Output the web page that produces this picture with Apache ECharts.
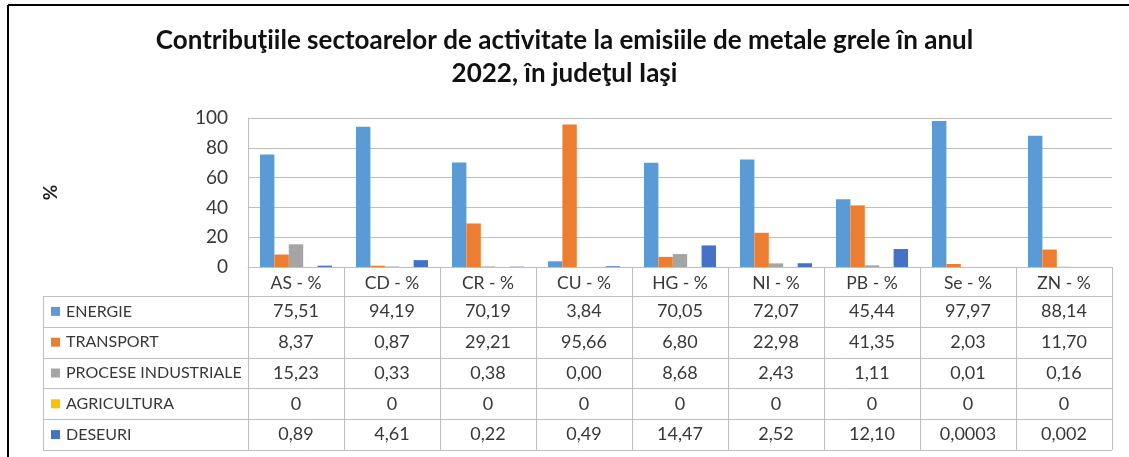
<!DOCTYPE html>
<html>
<head>
<meta charset="utf-8">
<script src="https://cdn.jsdelivr.net/npm/echarts@6/dist/echarts.min.js"></script>
<style>
  html, body { margin: 0; padding: 0; background: #fff; }
  #chart { width: 1129px; height: 457px; }
</style>
</head>
<body>
<div id="chart"></div>
<script>
// Metals (categories) and the share of each activity sector, in percent
const categories = ['AS - %', 'CD - %', 'CR - %', 'CU - %', 'HG - %', 'NI - %', 'PB - %', 'Se - %', 'ZN - %'];
const sectorNames = ['ENERGIE', 'TRANSPORT', 'PROCESE INDUSTRIALE', 'AGRICULTURA', 'DESEURI'];
const energie = ['75,51', '94,19', '70,19', '3,84', '70,05', '72,07', '45,44', '97,97', '88,14'];
const transport = ['8,37', '0,87', '29,21', '95,66', '6,80', '22,98', '41,35', '2,03', '11,70'];
const proceseIndustriale = ['15,23', '0,33', '0,38', '0,00', '8,68', '2,43', '1,11', '0,01', '0,16'];
const agricultura = ['0', '0', '0', '0', '0', '0', '0', '0', '0'];
const deseuri = ['0,89', '4,61', '0,22', '0,49', '14,47', '2,52', '12,10', '0,0003', '0,002'];
const yTicks = [0, 20, 40, 60, 80, 100];

const sectorValues = [energie, transport, proceseIndustriale, agricultura, deseuri];
const colors = ['#5B9BD5', '#ED7D31', '#A5A5A5', '#FFC000', '#4472C4'];
const toNumber = s => parseFloat(s.replace(',', '.'));

const FONT = 'Lato, "Open Sans", sans-serif';
const TEXT = '#383838';
const LINE = '#bfbfbf';

// table geometry (below the plot)
const tableLeft = 43;
const tableTop = 296;
const rowH = 30.8;
const tableBottom = tableTop + rowH * sectorNames.length;

const chart = echarts.init(document.getElementById('chart'), null, { renderer: 'canvas' });

chart.setOption({
  animation: false,
  backgroundColor: '#fff',
  title: {
    text: 'Contribuţiile sectoarelor de activitate la emisiile de metale grele în anul\n2022, în judeţul Iaşi',
    left: 'center',
    top: 19,
    textStyle: { fontFamily: FONT, fontWeight: 'bold', fontSize: 26, lineHeight: 33, color: '#111' }
  },
  grid: { left: 248, top: 118, right: 17, bottom: 190, containLabel: false },
  xAxis: {
    type: 'category',
    data: categories,
    axisLine: { show: true, lineStyle: { color: LINE, width: 1 } },
    axisTick: { show: true, length: tableBottom - 267, lineStyle: { color: LINE, width: 1 } },
    axisLabel: { fontFamily: FONT, fontSize: 17.5, color: TEXT, margin: 7 }
  },
  yAxis: {
    type: 'value',
    min: yTicks[0],
    max: yTicks[yTicks.length - 1],
    interval: yTicks[1] - yTicks[0],
    name: '%',
    nameLocation: 'middle',
    nameRotate: 90,
    nameGap: 188,
    nameTextStyle: { fontFamily: FONT, fontSize: 19, fontWeight: 'bold', color: '#222' },
    axisLine: { show: true, lineStyle: { color: LINE, width: 1 } },
    axisTick: { show: false },
    axisLabel: { fontFamily: FONT, fontSize: 19, color: TEXT, margin: 20 },
    splitLine: { lineStyle: { color: LINE, width: 1 } }
  },
  series: sectorNames.map((name, i) => ({
    name,
    type: 'bar',
    barGap: 0,
    barCategoryGap: '25%',
    itemStyle: { color: colors[i] },
    data: sectorValues[i].map(toNumber)
  }))
});

// data table drawn under the plot, columns aligned to the category axis
function buildTable() {
  const g = [];
  const band = chart.convertToPixel({ xAxisIndex: 0 }, 1) - chart.convertToPixel({ xAxisIndex: 0 }, 0);
  const right = chart.convertToPixel({ xAxisIndex: 0 }, categories.length - 1) + band / 2;

  // outer frame (top and left edges)
  g.push({ type: 'line', shape: { x1: 8, y1: 5, x2: 1129, y2: 5 }, style: { stroke: '#000', lineWidth: 2 } });
  g.push({ type: 'line', shape: { x1: 8, y1: 5, x2: 8, y2: 457 }, style: { stroke: '#000', lineWidth: 2 } });

  // horizontal rules of the table
  for (let k = 0; k <= sectorNames.length; k++) {
    const y = Math.round(tableTop + k * rowH) + 0.5;
    g.push({ type: 'line', shape: { x1: tableLeft, y1: y, x2: right, y2: y }, style: { stroke: LINE, lineWidth: 1 } });
  }
  g.push({ type: 'line', shape: { x1: tableLeft + 0.5, y1: tableTop, x2: tableLeft + 0.5, y2: Math.round(tableBottom) + 0.5 }, style: { stroke: LINE, lineWidth: 1 } });

  sectorNames.forEach((name, r) => {
    const cy = tableTop + r * rowH + rowH / 2;
    g.push({ type: 'rect', shape: { x: 51, y: cy - 4.5, width: 9, height: 9 }, style: { fill: colors[r] } });
    g.push({
      type: 'text', x: 66, y: cy,
      style: { text: name, fontFamily: FONT, fontSize: 16, fill: TEXT, align: 'left', verticalAlign: 'middle', textAlign: 'left', textVerticalAlign: 'middle' }
    });
    sectorValues[r].forEach((v, c) => {
      const cx = chart.convertToPixel({ xAxisIndex: 0 }, c);
      g.push({
        type: 'text', x: cx, y: cy,
        style: { text: v, fontFamily: FONT, fontSize: 18, fill: TEXT, align: 'center', verticalAlign: 'middle', textAlign: 'center', textVerticalAlign: 'middle' }
      });
    });
  });
  chart.setOption({ graphic: g });
}
buildTable();
</script>
</body>
</html>
